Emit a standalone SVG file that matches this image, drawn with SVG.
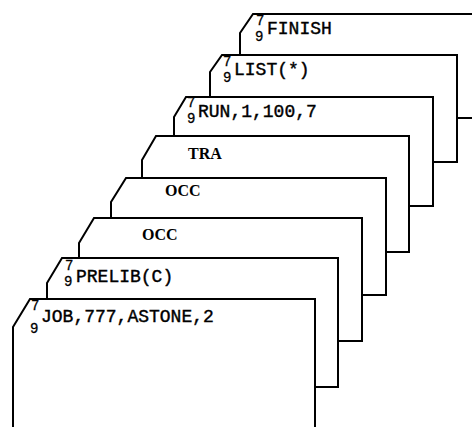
<svg xmlns="http://www.w3.org/2000/svg" width="472" height="427" viewBox="0 0 472 427">
<style>
.card{fill:#fff;stroke:#000;stroke-width:2;stroke-linejoin:miter}
.t{font-family:"Liberation Mono",monospace;font-size:18px;fill:#000;stroke:#000;stroke-width:0.4}
.d{font-family:"Liberation Mono",monospace;font-size:14px;fill:#000;stroke:#000;stroke-width:0.3}
.s{font-family:"Liberation Serif",serif;font-size:16px;font-weight:bold;fill:#000}
</style>
<rect width="472" height="427" fill="#fff"/>
<g id="card-finish">
<path class="card" d="M253,14 L490,14 L490,118 L240,118 L240,33 Z"/>
<text class="d" x="256" y="25">7</text><text class="d" x="255" y="41">9</text>
<text class="t" x="267" y="34">FINISH</text>
</g>
<g id="card-list">
<path class="card" d="M222,55 L457,55 L457,162 L210,162 L210,72 Z"/>
<text class="d" x="223" y="66">7</text><text class="d" x="223" y="82">9</text>
<text class="t" x="234" y="75">LIST(*)</text>
</g>
<g id="card-run">
<path class="card" d="M186,97 L433,97 L433,206 L174,206 L174,117 Z"/>
<text class="d" x="187" y="107">7</text><text class="d" x="187" y="123">9</text>
<text class="t" x="198" y="117">RUN,1,100,7</text>
</g>
<g id="card-tra">
<path class="card" d="M156,136 L409,136 L409,252 L142,252 L142,160 Z"/>
<text class="s" x="188" y="159">TRA</text>
</g>
<g id="card-occ1">
<path class="card" d="M126,178 L386,178 L386,295 L111,295 L111,202 Z"/>
<text class="s" x="165" y="196">OCC</text>
</g>
<g id="card-occ2">
<path class="card" d="M94,218 L362,218 L362,341 L79,341 L79,243 Z"/>
<text class="s" x="142" y="240">OCC</text>
</g>
<g id="card-prelib">
<path class="card" d="M62,258 L338,258 L338,387 L47,387 L47,283 Z"/>
<text class="d" x="65" y="270">7</text><text class="d" x="64" y="286">9</text>
<text class="t" x="76" y="282">PRELIB(C)</text>
</g>
<g id="card-job">
<path class="card" d="M30,299 L315,299 L315,440 L13,440 L13,327 Z"/>
<text class="d" x="31" y="310">7</text><text class="d" x="30" y="333">9</text>
<text class="t" x="41" y="322">JOB,777,ASTONE,2</text>
</g>
</svg>
